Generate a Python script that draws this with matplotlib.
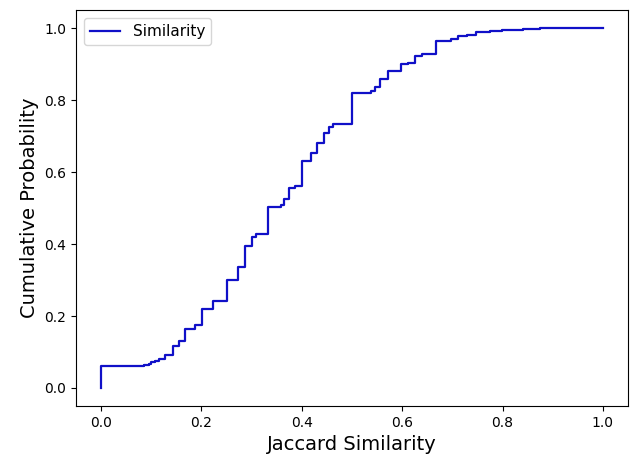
import matplotlib.pyplot as plt

jaccard = [0.0, 0.0, 0.078, 0.085, 0.095, 0.100, 0.107, 0.115, 0.128, 0.144,
           0.155, 0.167, 0.187, 0.201, 0.223, 0.251, 0.272, 0.286, 0.300,
           0.309, 0.333, 0.359, 0.365, 0.375, 0.387, 0.400, 0.418, 0.430,
           0.444, 0.455, 0.462, 0.500, 0.537, 0.546, 0.556, 0.571, 0.598,
           0.611, 0.625, 0.639, 0.667, 0.698, 0.711, 0.730, 0.748, 0.775,
           0.798, 0.840, 0.875, 1.0]
cum_prob = [0.0, 0.062, 0.062, 0.064, 0.067, 0.071, 0.075, 0.080, 0.092, 0.118,
            0.130, 0.164, 0.175, 0.220, 0.243, 0.300, 0.337, 0.395, 0.420,
            0.428, 0.504, 0.508, 0.525, 0.555, 0.561, 0.631, 0.654, 0.680,
            0.708, 0.725, 0.733, 0.819, 0.825, 0.837, 0.858, 0.880, 0.899,
            0.904, 0.923, 0.928, 0.965, 0.970, 0.977, 0.982, 0.988, 0.991,
            0.995, 0.998, 1.0, 1.0]

fig = plt.figure(figsize=(6.35, 4.59), dpi=100)
ax = fig.add_axes([0.1197, 0.1155, 0.8693, 0.8625])

ax.step(jaccard, cum_prob, where='post', color='#1010c8', linewidth=1.6, label='Similarity')

ax.set_xlabel('Jaccard Similarity', fontsize=14)
ax.set_ylabel('Cumulative Probability', fontsize=14)
ax.legend(loc='upper left', fontsize=11)

fig.savefig('out.png', dpi=100)
